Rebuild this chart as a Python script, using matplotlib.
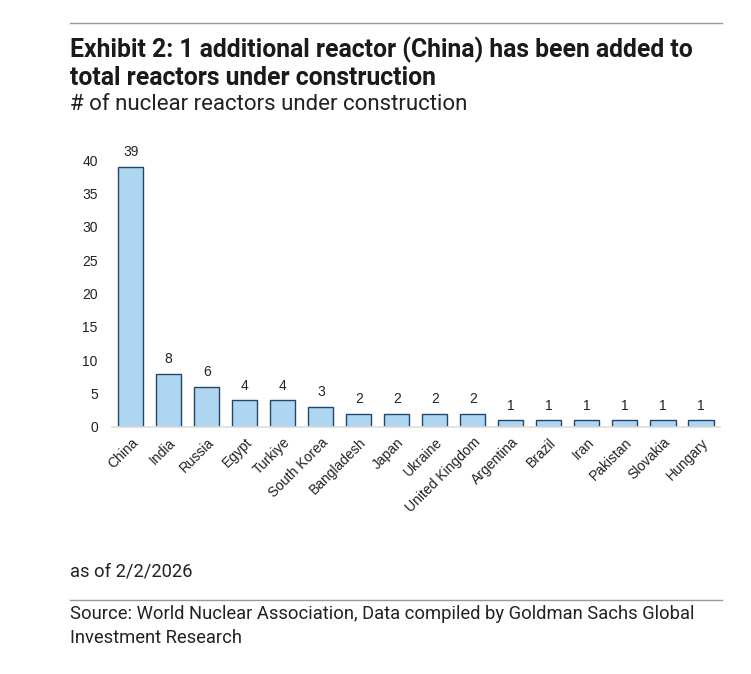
import numpy as np
import matplotlib.pyplot as plt
from matplotlib.lines import Line2D

plt.rcParams['font.family'] = ['Liberation Sans', 'DejaVu Sans']

# reactors under construction, as of 2/2/2026
countries = ['China', 'India', 'Russia', 'Egypt', 'Turkiye', 'South Korea', 'Bangladesh',
             'Japan', 'Ukraine', 'United Kingdom', 'Argentina', 'Brazil', 'Iran',
             'Pakistan', 'Slovakia', 'Hungary']
reactors = [39, 8, 6, 4, 4, 3, 2, 2, 2, 2, 1, 1, 1, 1, 1, 1]
yticks = [0, 5, 10, 15, 20, 25, 30, 35, 40]

W, H = 751, 674
fig = plt.figure(figsize=(W / 100, H / 100), dpi=100)

# chart area (pixel positions)
ax = fig.add_axes([111.7 / W, 1 - 427 / H, (720 - 111.7) / W, (427 - 160) / H])
x = np.arange(len(countries))
ax.bar(x, reactors, width=0.66, color='#aed6f1', edgecolor='#23446b', linewidth=1.0)
for xi, v in zip(x, reactors):
    ax.annotate(str(v), (xi, v), xytext=(0, 5.5), textcoords='offset points',
                ha='center', va='bottom', fontsize=10, color='#222222')

ax.set_xlim(-0.5, len(countries) - 0.5)
ax.set_ylim(0, 40)
ax.set_yticks(yticks)
ax.set_xticks(x)
ax.set_xticklabels(countries, rotation=45, ha='right', rotation_mode='anchor',
                   fontsize=10, color='#222222')
ax.tick_params(axis='both', length=0, labelsize=10, labelcolor='#222222')
ax.tick_params(axis='x', pad=6)
ax.tick_params(axis='y', pad=10)
for s in ['top', 'right', 'left']:
    ax.spines[s].set_visible(False)
ax.spines['bottom'].set_color('#dddddd')
ax.spines['bottom'].set_linewidth(1.2)

# header / footer text
tfont = ['Roboto', 'DejaVu Sans']
fig.add_artist(Line2D([70 / W, 722 / W], [1 - 23 / H, 1 - 23 / H], color='#999999', lw=1))
fig.text(70 / W, 1 - 50 / H, 'Exhibit 2: 1 additional reactor (China) has been added to',
         fontsize=17.8, fontweight='bold', family=tfont, va='center', color='#1a1a1a')
fig.text(70 / W, 1 - 78 / H, 'total reactors under construction',
         fontsize=17.8, fontweight='bold', family=tfont, va='center', color='#1a1a1a')
fig.text(70 / W, 1 - 105 / H, '# of nuclear reactors under construction',
         fontsize=16, family=tfont, va='center', color='#222222')

fig.text(70 / W, 1 - 572 / H, 'as of 2/2/2026', fontsize=13.2, family=tfont,
         va='center', color='#222222')
fig.add_artist(Line2D([70 / W, 722 / W], [1 - 600 / H, 1 - 600 / H], color='#999999', lw=1))
fig.text(70 / W, 1 - 614 / H,
         'Source: World Nuclear Association, Data compiled by Goldman Sachs Global',
         fontsize=13.2, family=tfont, va='center', color='#222222')
fig.text(70 / W, 1 - 638 / H, 'Investment Research', fontsize=13.2, family=tfont,
         va='center', color='#222222')

fig.savefig('out.png', dpi=100)
